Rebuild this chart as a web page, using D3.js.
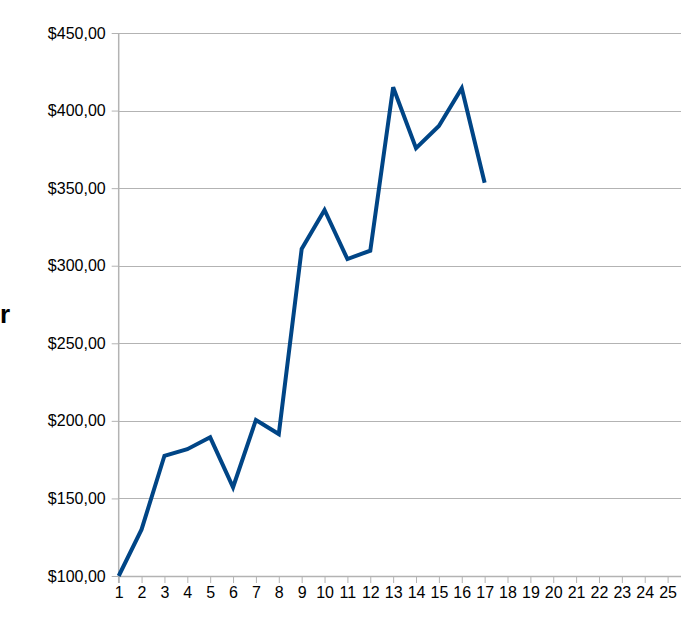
<!DOCTYPE html>
<html>
<head>
<meta charset="utf-8">
<script src="https://cdn.jsdelivr.net/npm/d3@7"></script>
<style>
  html, body { margin: 0; padding: 0; background: #fff; }
  svg { display: block; }
  text { font-family: "Liberation Sans", Arial, sans-serif; fill: #000; }
</style>
</head>
<body>
<svg id="chart" width="681" height="627"></svg>
<script>
const categories = d3.range(1, 26);
const seriesValues = [100, 130, 177.5, 181.7, 189.4, 157.2, 200.6, 191.5, 310.8, 335.9, 304.3, 309.7, 415, 375.7, 390.1, 414.4, 353.5];
const yTicks = [100, 150, 200, 250, 300, 350, 400, 450];
const yTitle = "r";

(function () {
const svg = d3.select("#chart");
const mLeft = 118.7, mRight = 681, mTop = 33, mBottom = 576;

const x = d3.scaleLinear().domain([1, 25]).range([mLeft, 667.6]);
const y = d3.scaleLinear().domain([100, 450]).range([mBottom, mTop]);

const fmt = v => "$" + d3.format(".2f")(v).replace(".", ",");
const gridColor = "#b3b3b3";

// horizontal gridlines
svg.append("g").selectAll("line").data(yTicks).join("line")
  .attr("x1", mLeft).attr("x2", mRight)
  .attr("y1", d => Math.round(y(d)) + 0.5).attr("y2", d => Math.round(y(d)) + 0.5)
  .attr("stroke", gridColor).attr("stroke-width", 1);

// y axis
const yAxis = svg.append("g").attr("transform", `translate(${mLeft},0)`)
  .call(d3.axisLeft(y).tickValues(yTicks).tickFormat(fmt).tickSize(7).tickPadding(6));
yAxis.select(".domain").remove();
yAxis.selectAll(".tick line").attr("stroke", gridColor);
yAxis.selectAll(".tick text").attr("font-size", 16).attr("font-family", "Liberation Sans, Arial, sans-serif").attr("fill", "#000");
svg.append("line").attr("x1", mLeft).attr("x2", mLeft).attr("y1", mTop).attr("y2", mBottom + 7)
  .attr("stroke", gridColor).attr("stroke-width", 1.5);

// x axis
const xAxis = svg.append("g").attr("transform", `translate(0,${mBottom})`)
  .call(d3.axisBottom(x).tickValues(categories).tickFormat(d3.format("d")).tickSize(7).tickPadding(4));
xAxis.select(".domain").remove();
xAxis.selectAll(".tick line").attr("stroke", gridColor);
xAxis.selectAll(".tick text").attr("font-size", 16).attr("font-family", "Liberation Sans, Arial, sans-serif").attr("fill", "#000");
svg.append("line").attr("x1", mLeft).attr("x2", mRight).attr("y1", mBottom + 0.5).attr("y2", mBottom + 0.5)
  .attr("stroke", gridColor).attr("stroke-width", 1.5);

// line
const line = d3.line().x((d, i) => x(categories[i])).y(d => y(d));
svg.append("path").datum(seriesValues)
  .attr("d", line).attr("fill", "none")
  .attr("stroke", "#004586").attr("stroke-width", 4).attr("stroke-linejoin", "miter");

// y title (only its last letter is visible in the reference)
svg.append("text").attr("x", 0).attr("y", 323)
  .attr("text-anchor", "start").attr("font-weight", "bold").attr("font-size", 26)
  .text(yTitle);
})();
</script>
</body>
</html>
